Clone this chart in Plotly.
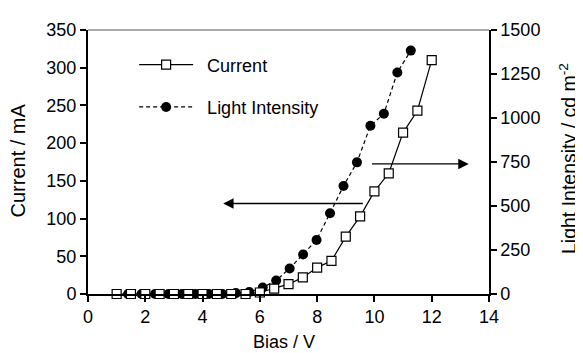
import plotly.graph_objects as go

# ---- data ----
bias_current = [1.0, 1.5, 2.0, 2.5, 3.0, 3.5, 4.0, 4.5, 5.0, 5.5, 6.0, 6.5,
                7.0, 7.5, 8.0, 8.5, 9.0, 9.5, 10.0, 10.5, 11.0, 11.5, 12.0]
current_mA = [0, 0, 0, 0, 0, 0, 0, 0, 0, 0, 2, 7,
              13, 22, 35, 44, 76, 103, 136, 160, 214, 243, 310]

bias_light = [1.4, 1.87, 2.34, 2.81, 3.28, 3.75, 4.22, 4.69, 5.16, 5.63, 6.1,
              6.57, 7.04, 7.51, 7.98, 8.45, 8.92, 9.39, 9.86, 10.33, 10.8, 11.27]
light_cdm2 = [0, 0, 0, 0, 0, 0, 0, 0, 5, 11, 37,
              77, 145, 224, 307, 459, 614, 748, 956, 1024, 1259, 1383]

x_ticks = [0, 2, 4, 6, 8, 10, 12, 14]
y_ticks = [0, 50, 100, 150, 200, 250, 300, 350]
y2_ticks = [0, 250, 500, 750, 1000, 1250, 1500]

FONT = "Liberation Sans, Arial, sans-serif"

fig = go.Figure()

fig.add_trace(go.Scatter(
    x=bias_light, y=light_cdm2, yaxis="y", name="\u2002Light Intensity",
    mode="lines+markers", legendgroup="b", legendrank=2,
    line=dict(color="black", width=1.2, dash="4px,3px"),
    marker=dict(symbol="circle", size=10, color="black"),
    cliponaxis=False,
))
fig.add_trace(go.Scatter(
    x=bias_current, y=current_mA, yaxis="y2", name="\u2002Current",
    mode="lines+markers", legendgroup="a", legendrank=1,
    line=dict(color="black", width=1.2),
    marker=dict(symbol="square", size=9, color="white",
                line=dict(color="black", width=1.2)),
    cliponaxis=False,
))

axis_font = dict(family=FONT, size=18, color="black")

fig.update_layout(
    width=575, height=345,
    margin=dict(l=80, r=94, t=15, b=59),
    paper_bgcolor="white", plot_bgcolor="white",
    font=dict(family=FONT, size=18, color="black"),
    showlegend=True,
    legend=dict(x=0.115, y=0.938, xanchor="left", yanchor="top",
                bgcolor="rgba(0,0,0,0)", borderwidth=0,
                font=dict(family=FONT, size=18, color="black"),
                itemwidth=54, tracegroupgap=16, traceorder="grouped"),
    xaxis=dict(range=[0, 14], tickvals=x_ticks, ticks="outside", ticklen=6,
               tickwidth=1.5, tickcolor="black", showline=True, linecolor="black",
               linewidth=1.5, showgrid=False, zeroline=False, tickfont=axis_font),
    yaxis=dict(range=[0, 1500], side="right", tickvals=y2_ticks, ticks="outside",
               ticklen=6, tickwidth=1.5, tickcolor="black", showline=True,
               linecolor="black", linewidth=1.5, showgrid=False, zeroline=False,
               tickfont=axis_font),
    yaxis2=dict(range=[0, 350], side="left", overlaying="y", tickvals=y_ticks,
                ticks="outside", ticklen=6, tickwidth=1.5, tickcolor="black",
                showline=True, linecolor="black", linewidth=2, showgrid=False,
                zeroline=False, tickfont=axis_font),
    shapes=[dict(type="line", xref="paper", yref="paper", x0=0, x1=1, y0=1, y1=1,
                 line=dict(color="#555555", width=1))],
)

# arrows pointing to the axes
left_arrow = dict(x_from=9.65, x_to=4.72, y=120)
right_arrow = dict(x_from=9.86, x_to=13.29, y=739)

fig.add_annotation(x=left_arrow["x_to"], y=left_arrow["y"], xref="x", yref="y2",
                   ax=left_arrow["x_from"], ay=left_arrow["y"], axref="x", ayref="y2",
                   text="", showarrow=True, arrowhead=2, arrowsize=1.6,
                   arrowwidth=1.3, arrowcolor="black")
fig.add_annotation(x=right_arrow["x_to"], y=right_arrow["y"], xref="x", yref="y",
                   ax=right_arrow["x_from"], ay=right_arrow["y"], axref="x", ayref="y",
                   text="", showarrow=True, arrowhead=2, arrowsize=1.6,
                   arrowwidth=1.3, arrowcolor="black")

# axis titles
fig.add_annotation(text="Bias / V", xref="paper", yref="paper", x=0.49, y=-0.181,
                   showarrow=False, font=dict(family=FONT, size=18, color="black"),
                   xanchor="center", yanchor="middle")
fig.add_annotation(text="Current / mA", xref="paper", yref="paper", x=-0.175, y=0.505,
                   showarrow=False, textangle=-90,
                   font=dict(family=FONT, size=20, color="black"),
                   xanchor="center", yanchor="middle")
fig.add_annotation(text="Light Intensity / cd m<sup>-2</sup>", xref="paper", yref="paper",
                   x=1.197, y=0.515, showarrow=False, textangle=-90,
                   font=dict(family=FONT, size=19.5, color="black"),
                   xanchor="center", yanchor="middle")

fig.write_html("out.html")
